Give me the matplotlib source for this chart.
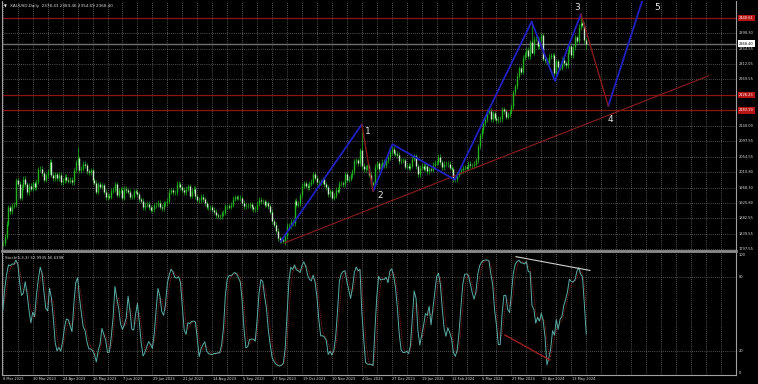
import numpy as np
import matplotlib
matplotlib.use('Agg')
import matplotlib.pyplot as plt
from matplotlib.collections import LineCollection
from matplotlib.transforms import blended_transform_factory

# XAUUSD daily closes, 8 Mar 2023 .. 23 May 2024 (one value per bar)
closes = [
    # Mar 2023
    1814, 1831, 1868, 1913, 1903, 1918, 1921, 1989, 1979, 1940, 1970, 1993, 1977, 1956, 1973, 1965, 1980, 1969,
    # Apr 2023
    1984, 2020, 2021, 2008, 1990, 2003, 2014, 2040, 2004, 1995, 2005, 1995, 2004, 1983, 1989, 1998, 1990, 1988, 1990,
    # May 2023
    1983, 2017, 2039, 2050, 2017, 2021, 2035, 2030, 2014, 2011, 2017, 1989, 1982, 1957, 1978, 1971, 1975, 1957,
    1941, 1946, 1943, 1959, 1963,
    # Jun 2023
    1978, 1948, 1961, 1963, 1940, 1965, 1961, 1957, 1943, 1943, 1958, 1957, 1950, 1936, 1932, 1913, 1921, 1923,
    1914, 1907, 1908, 1919,
    # Jul 2023
    1921, 1926, 1915, 1911, 1925, 1925, 1932, 1957, 1961, 1955, 1955, 1979, 1977, 1969, 1962, 1955, 1965, 1972,
    1946, 1959, 1965,
    # Aug 2023
    1944, 1934, 1933, 1943, 1936, 1925, 1915, 1913, 1914, 1907, 1901, 1891, 1889, 1889, 1895, 1899, 1916, 1917,
    1915, 1920, 1937, 1942, 1940,
    # Sep 2023
    1940, 1939, 1926, 1916, 1919, 1919, 1922, 1913, 1908, 1910, 1924, 1934, 1931, 1930, 1920, 1925, 1916, 1901,
    1875, 1865, 1849,
    # Oct 2023
    1828, 1822, 1822, 1820, 1833, 1862, 1861, 1874, 1869, 1932, 1920, 1923, 1947, 1974, 1981, 1973, 1970, 1979,
    1985, 2006, 1996, 1983,
    # Nov 2023
    1983, 1986, 1992, 1978, 1969, 1950, 1958, 1940, 1946, 1963, 1959, 1981, 1981, 1978, 2006, 1990, 1993, 2002,
    2014, 2041, 2044, 2036,
    # Dec 2023
    2072, 2029, 2019, 2025, 2028, 2004, 1981, 1979, 2027, 2036, 2019, 2027, 2040, 2031, 2045, 2053, 2067, 2077,
    2065, 2063,
    # Jan 2024
    2059, 2042, 2043, 2045, 2027, 2029, 2024, 2029, 2049, 2055, 2028, 2006, 2023, 2029, 2021, 2029, 2014, 2020,
    2018, 2032, 2037, 2039,
    # Feb 2024
    2054, 2039, 2025, 2035, 2035, 2034, 2024, 2020, 1992, 1992, 2004, 2013, 2017, 2024, 2025, 2024, 2035, 2031,
    2030, 2034, 2044,
    # Mar 2024
    2083, 2114, 2128, 2148, 2159, 2179, 2182, 2158, 2175, 2162, 2155, 2160, 2158, 2186, 2181, 2165, 2172, 2179,
    2195, 2233,
    # Apr 2024
    2250, 2280, 2300, 2291, 2330, 2339, 2352, 2333, 2372, 2344, 2383, 2383, 2361, 2379, 2392, 2327, 2322, 2316,
    2332, 2337, 2336, 2286,
    # May 2024
    2320, 2304, 2302, 2324, 2314, 2309, 2346, 2361, 2336, 2358, 2386, 2377, 2415, 2425, 2421, 2378.43, 2368.40,
]
first_open = 1813
# bars whose high / low stick out well past the body
spike_high = {40: 2081, 156: 1938, 192: 2146, 283: 2431, 309: 2450, 312: 2383.46}
spike_low = {151: 1810, 192: 2017, 242: 1984, 283: 2342, 312: 2354.69}

date_labels = ["8 Mar 2023", "30 Mar 2023", "24 Apr 2023", "16 May 2023", "7 Jun 2023", "29 Jun 2023",
               "21 Jul 2023", "14 Aug 2023", "5 Sep 2023", "27 Sep 2023", "19 Oct 2023", "10 Nov 2023",
               "4 Dec 2023", "27 Dec 2023", "19 Jan 2024", "12 Feb 2024", "5 Mar 2024", "27 Mar 2024",
               "19 Apr 2024", "13 May 2024"]
price_ticks = [2398.30, 2354.55, 2312.05, 2269.55, 2140.00, 2097.55, 2054.55, 2010.80,
               1968.30, 1925.80, 1882.55, 1839.55, 1797.55]
red_levels = [2440.61, 2226.23, 2183.19]
bid = 2368.40

# wave count drawn on the chart (bar, price)
blue_a = [(148.5, 1818), (192, 2144)]
red_a = [(192, 2144), (198, 1958)]
blue_b = [(198, 1958), (208.3, 2089), (241.8, 1990), (282.8, 2430), (295.3, 2265), (309.2, 2451)]
red_b = [(309.2, 2451), (323.8, 2195)]
blue_c = [(323.8, 2195), (343, 2505)]
trend = [(150.9, 1815), (377.3, 2279)]
wave_names = ["1", "2", "3", "4", "5"]
wave_pos = [(195.3, 2124), (201.7, 1946), (306.9, 2469), (325.1, 2157), (349.7, 2470)]

# stochastic divergence lines (bar, value)
stoch_top = [(274.4, 97), (314, 85.7)]
stoch_bot = [(268.5, 32.8), (292.6, 12.3)]

# ---- OHLC ----
closes = np.array(closes, dtype=float)
n = len(closes)
opens = np.concatenate([[first_open], closes[:-1]])
opens[-1] = 2378.43
highs = np.maximum(opens, closes) + 7
lows = np.minimum(opens, closes) - 7
for i, v in spike_high.items():
    highs[i] = v
for i, v in spike_low.items():
    lows[i] = v

# Stoch(5,3,3)
hh = np.array([highs[max(0, i - 4):i + 1].max() for i in range(n)])
ll = np.array([lows[max(0, i - 4):i + 1].min() for i in range(n)])
num = closes - ll
den = hh - ll
k_line = np.array([num[max(0, i - 2):i + 1].sum() / den[max(0, i - 2):i + 1].sum() * 100 for i in range(n)])
d_line = np.array([k_line[max(0, i - 2):i + 1].mean() for i in range(n)])

# ---- figure ----
W, H = 758, 384
fig = plt.figure(figsize=(W / 100, H / 100), dpi=100, facecolor='black')
ax = fig.add_axes([2 / W, (H - 251) / H, 734 / W, 250 / H], facecolor='black')
ax2 = fig.add_axes([2 / W, (H - 375) / H, 734 / W, 122 / H], facecolor='black')

xmin, xmax = -0.43, 392.1
grid_kw = dict(color='#9a9a9a', linestyle=(0, (1, 2)), linewidth=0.5)
for a in (ax, ax2):
    a.set_xlim(xmin, xmax)
    a.set_xticks(np.arange(0, 393, 8))
    a.tick_params(length=0, labelbottom=False, labelleft=False)
    a.grid(True, **grid_kw)
    a.set_axisbelow(True)
    for s in a.spines.values():
        s.set_color('#a0a0a0')
        s.set_linewidth(0.8)
ax.set_ylim(1792.0, 2487.3)
ax.set_yticks(sorted(price_ticks + red_levels))
ax.spines['top'].set_visible(False)
ax.spines['bottom'].set_linewidth(2)
ax.spines['bottom'].set_color('#8c8c8c')
ax2.set_ylim(0, 100)
ax2.set_yticks([20, 80])
ax2.spines['top'].set_visible(False)

# candles
green = '#1fb41f'
idx = np.arange(n)
wicks = [[(i, lows[i]), (i, highs[i])] for i in idx]
ax.add_collection(LineCollection(wicks, colors=green, linewidths=0.5, zorder=3))
up = closes >= opens
bull = [[(i, opens[i]), (i, closes[i])] for i in idx[up]]
bear = [[(i, opens[i]), (i, closes[i])] for i in idx[~up]]
ax.add_collection(LineCollection(bull, colors=green, linewidths=1.0, zorder=4))
ax.add_collection(LineCollection(bear, colors='#c8ecc8', linewidths=1.0, zorder=4))

# levels
for lv in red_levels:
    ax.axhline(lv, color='#8e1414', lw=0.9, zorder=2)
ax.axhline(bid, color='#6e6e6e', lw=1.0, zorder=2)

# wave lines
def path(a, pts, **kw):
    xs, ys = zip(*pts)
    a.plot(xs, ys, **kw)

path(ax, trend, color='#8a1e1e', lw=0.8, zorder=5)
for pts in (blue_a, blue_b, blue_c):
    path(ax, pts, color='#2020c4', lw=1.3, zorder=6, solid_capstyle='round')
for pts in (red_a, red_b):
    path(ax, pts, color='#861a1a', lw=1.0, zorder=6)
for name, (bx, py) in zip(wave_names, wave_pos):
    ax.text(bx, py, name, color='#e8e8e8', fontsize=6.5, ha='center', va='center', zorder=7)

# stochastic
ax2.plot(idx, d_line, color='#a82222', lw=0.6, linestyle=(0, (1, 1.2)), zorder=3)
ax2.plot(idx, k_line, color='#5aaea6', lw=0.7, zorder=4)
path(ax2, stoch_top, color='#d0d0d0', lw=0.8, zorder=5)
path(ax2, stoch_bot, color='#a01e1e', lw=1.0, zorder=5)

# right-hand price scale
fs = 2.6
tc = '#d8d8d8'
ry = blended_transform_factory(ax.transAxes, ax.transData)
xl = 1 + 3 / 734
for p in price_ticks:
    ax.text(xl, p, f"{p:.2f}", transform=ry, color=tc, fontsize=fs, ha='left', va='center', clip_on=False)
for p in red_levels:
    ax.text(xl, p, f"{p:.2f}", transform=ry, color='white', fontsize=fs, ha='left', va='center', clip_on=False,
            bbox=dict(boxstyle='square,pad=0.35', fc='#b81414', ec='none'))
ax.text(xl, bid, f"{bid:.2f}", transform=ry, color='black', fontsize=fs, ha='left', va='center', clip_on=False,
        bbox=dict(boxstyle='square,pad=0.35', fc='white', ec='none'), zorder=8)

ry2 = blended_transform_factory(ax2.transAxes, ax2.transData)
for v, va in ((100, 'top'), (80, 'center'), (20, 'center'), (0, 'bottom')):
    ax2.text(xl, v, str(v), transform=ry2, color=tc, fontsize=fs, ha='left', va=va, clip_on=False)

# dates
dx = blended_transform_factory(ax2.transData, ax2.transAxes)
for k, lab in enumerate(date_labels):
    ax2.text(16 * k + 0.3, -0.033, lab, transform=dx, color=tc, fontsize=fs, ha='left', va='center',
             clip_on=False)

# titles
fig.text(4 / W, 1 - 6 / H, "\u25bc", color='white', fontsize=2.6, ha='left', va='center')
fig.text(10 / W, 1 - 6 / H, "XAUUSD,Daily  2378.43 2383.46 2354.69 2368.40", color=tc, fontsize=3.0,
         ha='left', va='center')
fig.text(5 / W, 1 - 258 / H, "Stoch(5,3,3) 32.9935 56.6398", color=tc, fontsize=2.8, ha='left', va='center')

fig.savefig('out.png', dpi=100, facecolor='black')
